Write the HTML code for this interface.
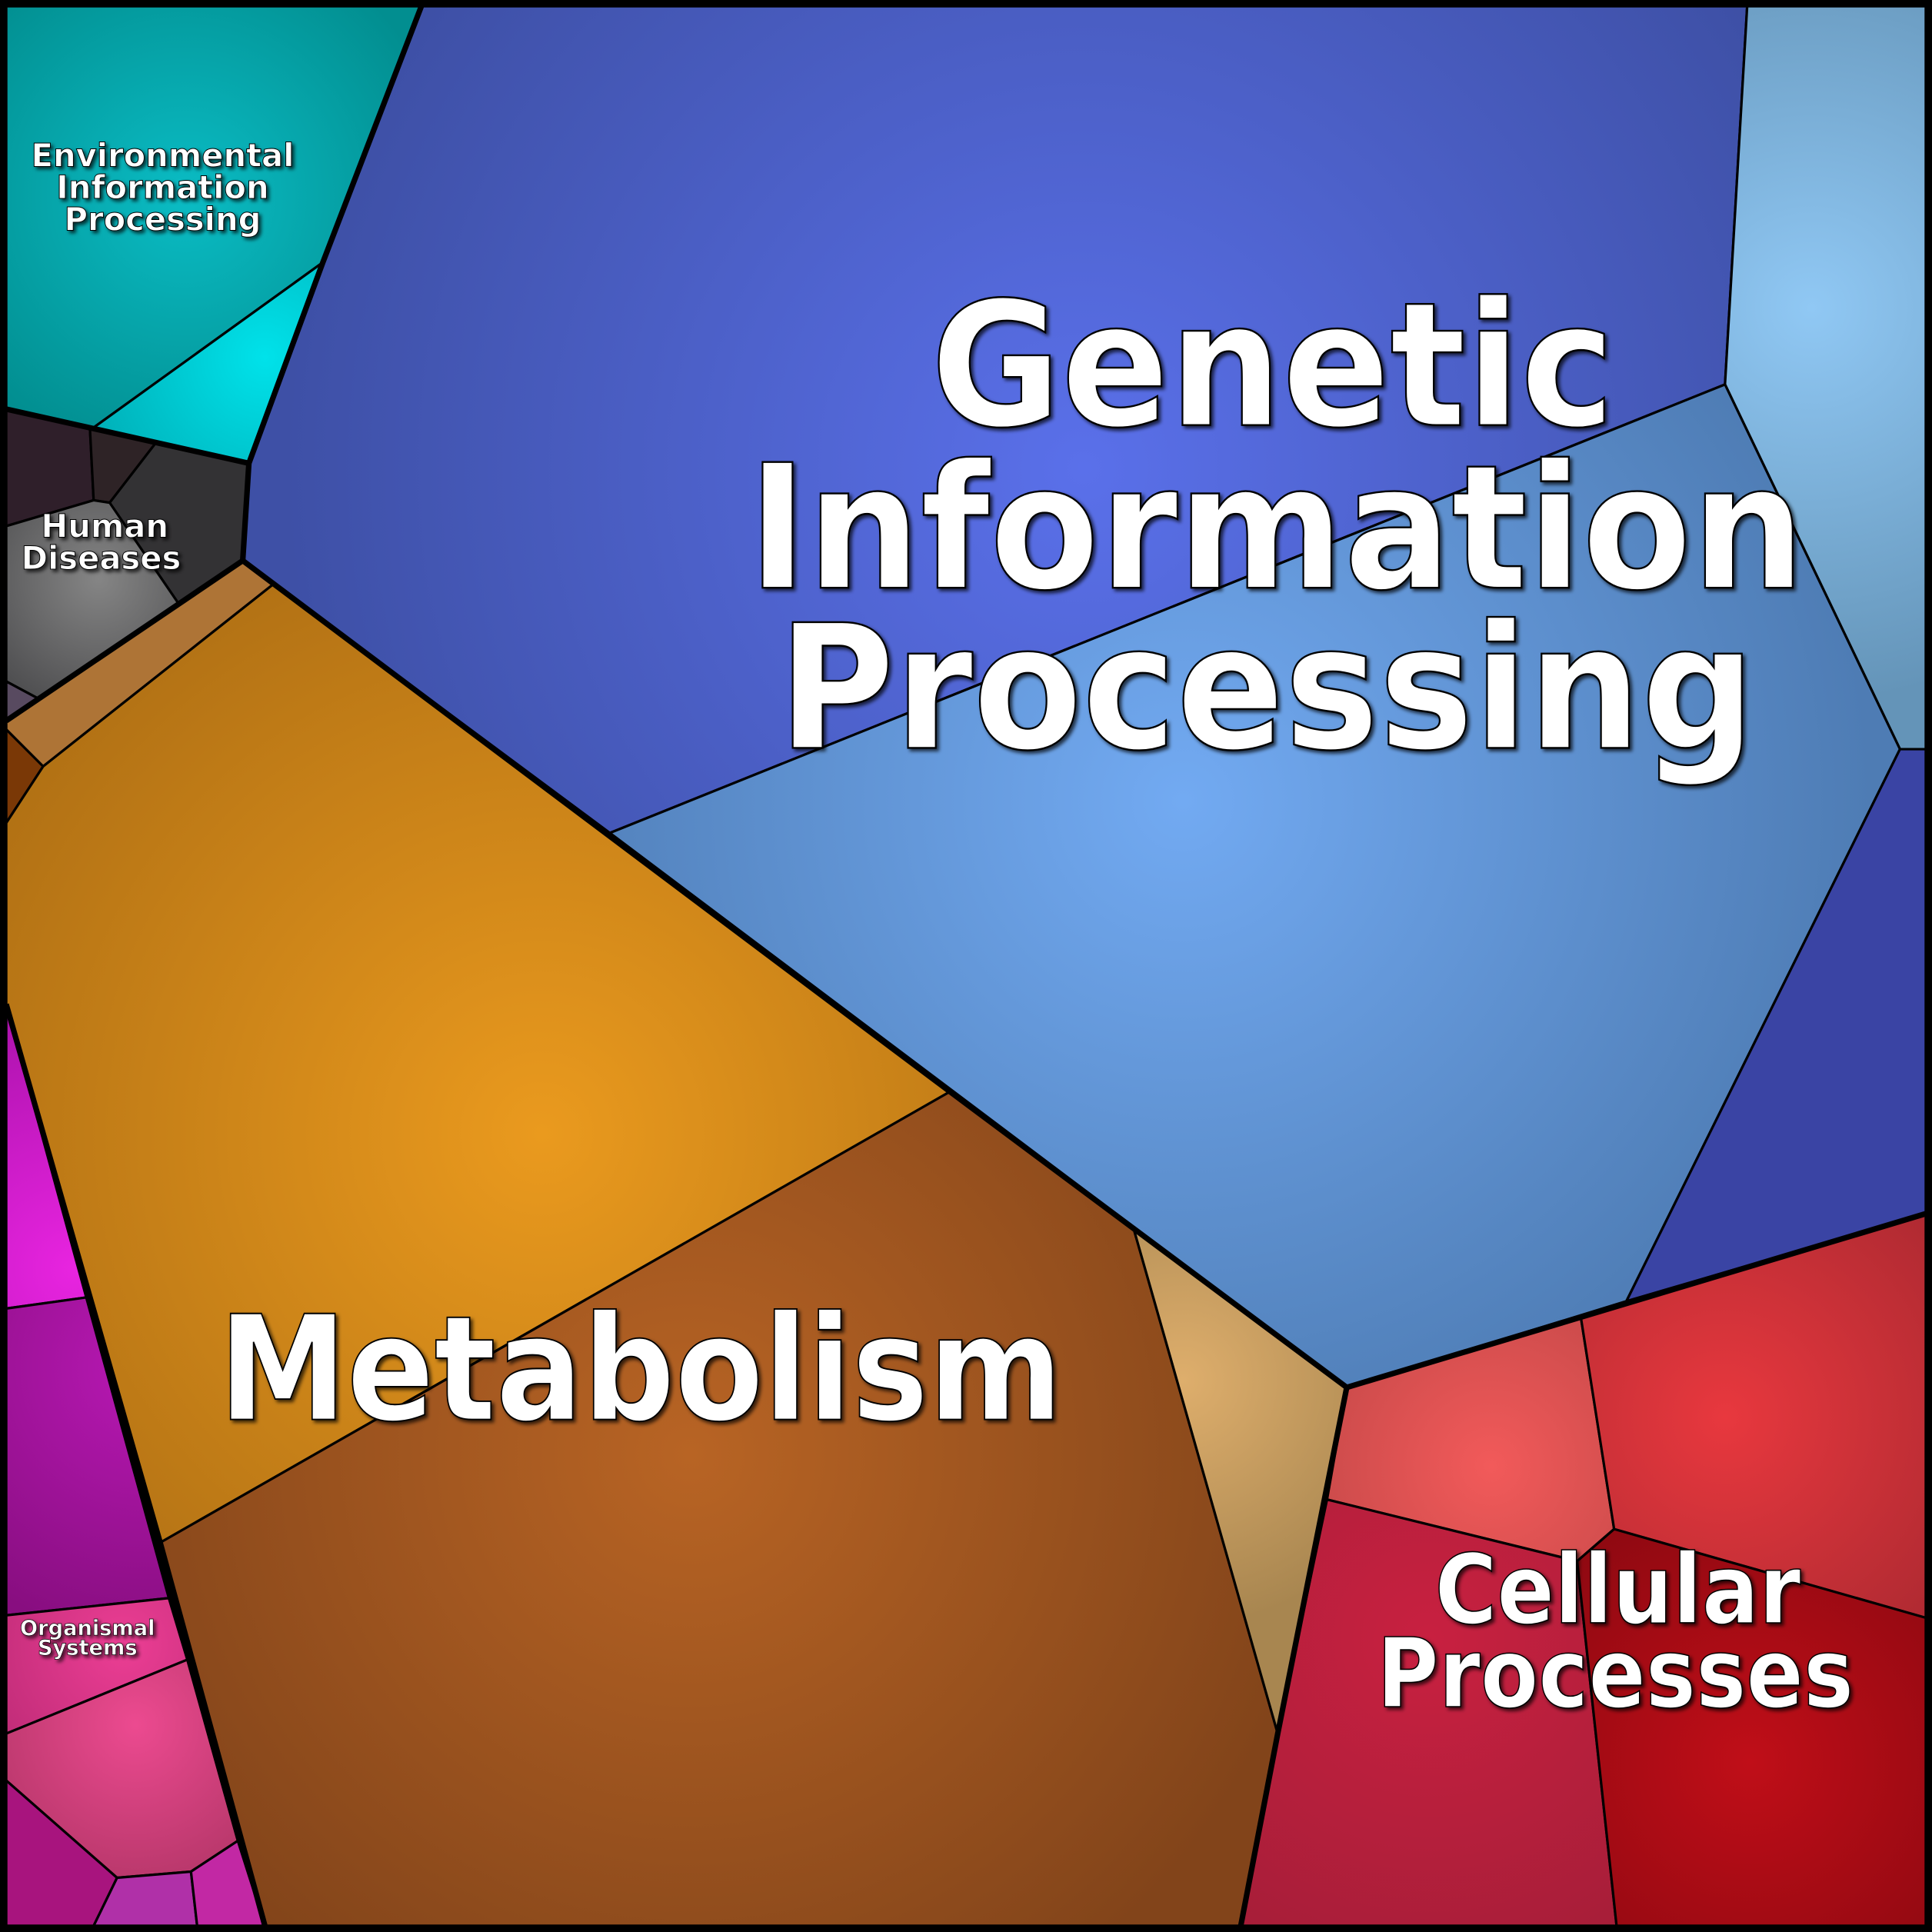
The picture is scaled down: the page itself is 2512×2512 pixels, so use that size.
<!DOCTYPE html>
<html><head><style>html,body{margin:0;padding:0;background:#000}svg{display:block}
text{font-family:"DejaVu Sans","Liberation Sans",sans-serif;font-weight:bold;fill:#fff;stroke:#000;text-anchor:middle;paint-order:normal}</style></head>
<body>
<svg width="2512" height="2512" viewBox="0 0 1568 1568" xmlns="http://www.w3.org/2000/svg">
<defs>
<filter id="sh" x="-10%" y="-10%" width="120%" height="130%"><feDropShadow dx="2" dy="2" stdDeviation="1.5" flood-color="#000" flood-opacity="0.7"/></filter>
<radialGradient id="g1" gradientUnits="userSpaceOnUse" cx="150" cy="160" r="220"><stop offset="0" stop-color="#0abcc4"/><stop offset="1" stop-color="#028e90"/></radialGradient>
<radialGradient id="g2" gradientUnits="userSpaceOnUse" cx="215" cy="290" r="150"><stop offset="0" stop-color="#00e2ea"/><stop offset="1" stop-color="#00b0b8"/></radialGradient>
<radialGradient id="g3" gradientUnits="userSpaceOnUse" cx="80" cy="470" r="120"><stop offset="0" stop-color="#858585"/><stop offset="1" stop-color="#4a4a4c"/></radialGradient>
<radialGradient id="g4" gradientUnits="userSpaceOnUse" cx="440" cy="920" r="520"><stop offset="0" stop-color="#ea9a1e"/><stop offset="1" stop-color="#b07014"/></radialGradient>
<radialGradient id="g5" gradientUnits="userSpaceOnUse" cx="560" cy="1180" r="520"><stop offset="0" stop-color="#b86424"/><stop offset="1" stop-color="#82441a"/></radialGradient>
<radialGradient id="g6" gradientUnits="userSpaceOnUse" cx="960" cy="1120" r="200"><stop offset="0" stop-color="#deae6c"/><stop offset="1" stop-color="#a88650"/></radialGradient>
<radialGradient id="g7" gradientUnits="userSpaceOnUse" cx="880" cy="380" r="650"><stop offset="0" stop-color="#5a70ea"/><stop offset="1" stop-color="#3e50a6"/></radialGradient>
<radialGradient id="g8" gradientUnits="userSpaceOnUse" cx="1470" cy="250" r="320"><stop offset="0" stop-color="#90c8f4"/><stop offset="1" stop-color="#6494b8"/></radialGradient>
<radialGradient id="g9" gradientUnits="userSpaceOnUse" cx="960" cy="650" r="560"><stop offset="0" stop-color="#72aaf2"/><stop offset="1" stop-color="#4e7cb4"/></radialGradient>
<radialGradient id="g10" gradientUnits="userSpaceOnUse" cx="1210" cy="1190" r="170"><stop offset="0" stop-color="#f25a5a"/><stop offset="1" stop-color="#c44848"/></radialGradient>
<radialGradient id="g11" gradientUnits="userSpaceOnUse" cx="1400" cy="1150" r="260"><stop offset="0" stop-color="#e8383e"/><stop offset="1" stop-color="#a82830"/></radialGradient>
<radialGradient id="g12" gradientUnits="userSpaceOnUse" cx="1160" cy="1330" r="300"><stop offset="0" stop-color="#c82040"/><stop offset="1" stop-color="#a41e38"/></radialGradient>
<radialGradient id="g13" gradientUnits="userSpaceOnUse" cx="1420" cy="1430" r="250"><stop offset="0" stop-color="#c00e18"/><stop offset="1" stop-color="#880810"/></radialGradient>
<radialGradient id="g14" gradientUnits="userSpaceOnUse" cx="60" cy="1030" r="200"><stop offset="0" stop-color="#e824e0"/><stop offset="1" stop-color="#b014b0"/></radialGradient>
<radialGradient id="g15" gradientUnits="userSpaceOnUse" cx="120" cy="1110" r="220"><stop offset="0" stop-color="#b818b4"/><stop offset="1" stop-color="#880e80"/></radialGradient>
<radialGradient id="g16" gradientUnits="userSpaceOnUse" cx="100" cy="1335" r="120"><stop offset="0" stop-color="#ec3e94"/><stop offset="1" stop-color="#c02c78"/></radialGradient>
<radialGradient id="g17" gradientUnits="userSpaceOnUse" cx="110" cy="1400" r="140"><stop offset="0" stop-color="#ec4a90"/><stop offset="1" stop-color="#b43668"/></radialGradient>
</defs>
<rect x="0" y="0" width="1568" height="1568" fill="#000"/>
<g stroke="#000" stroke-width="2" stroke-linejoin="round">
<!-- Environmental -->
<polygon points="5,5 342,5 262,213 76,347 5,332" fill="url(#g1)"/>
<polygon points="262,213 202,376 76,347" fill="url(#g2)"/>
<!-- Human diseases -->
<polygon points="5,332 73,348 76,406 5,427" fill="#2f1f2a"/>
<polygon points="73,348 126,360 89,408 76,406" fill="#2e2326"/>
<polygon points="126,360 202,376 197,455 145,490 89,408" fill="#333234"/>
<polygon points="5,427 76,406 89,408 145,490 33,568 5,553" fill="url(#g3)"/>
<polygon points="5,553 33,568 5,585" fill="#584a60"/>
<!-- Metabolism -->
<polygon points="5,585 197,455 222,474 35,622 5,592" fill="#ae7436"/>
<polygon points="5,592 35,622 5,668" fill="#7a3806"/>
<polygon points="35,622 222,474 771,886 130,1252 5,815 5,668" fill="url(#g4)"/>
<polygon points="771,886 920,997 1037,1407 1007,1563 215,1563 130,1252" fill="url(#g5)"/>
<polygon points="920,997 1093,1126 1037,1407" fill="url(#g6)"/>
<!-- Genetic -->
<polygon points="342,5 1418,5 1400,312 495,676 197,455 202,376 262,213" fill="url(#g7)"/>
<polygon points="1418,5 1563,5 1563,608 1542,608 1400,312" fill="url(#g8)"/>
<polygon points="1400,312 1542,608 1320,1056 1093,1126 495,676" fill="url(#g9)"/>
<polygon points="1542,608 1563,608 1563,985 1320,1056" fill="#3a44a4"/>
<!-- Cellular -->
<polygon points="1093,1126 1283,1069 1310,1241 1280,1267 1077,1217" fill="url(#g10)"/>
<polygon points="1283,1069 1563,985 1563,1313 1310,1241" fill="url(#g11)"/>
<polygon points="1077,1217 1280,1267 1312,1563 1007,1563 1037,1407" fill="url(#g12)"/>
<polygon points="1280,1267 1310,1241 1563,1313 1563,1563 1312,1563" fill="url(#g13)"/>
<!-- Organismal -->
<polygon points="5,815 70,1053 5,1062" fill="url(#g14)"/>
<polygon points="5,1062 70,1053 137,1297 5,1311" fill="url(#g15)"/>
<polygon points="5,1311 137,1297 152,1347 5,1407" fill="url(#g16)"/>
<polygon points="5,1407 152,1347 193,1494 155,1519 95,1524 5,1445" fill="url(#g17)"/>
<polygon points="5,1445 95,1524 76,1563 5,1563" fill="#a8147e"/>
<polygon points="95,1524 155,1519 160,1563 76,1563" fill="#b030a8"/>
<polygon points="155,1519 193,1494 215,1563 160,1563" fill="#c228a4"/>
</g>
<!-- top-level borders -->
<g fill="none" stroke="#000" stroke-width="4.5" stroke-linejoin="round">
<polyline points="342,5 262,213 202,376 197,455 771,886 1093,1126 1563,985"/>
<polyline points="5,332 202,376"/>
<polyline points="5,585 197,455"/>
<polyline points="5,815 130,1252 215,1563"/>
<polyline points="1093,1126 1037,1407 1007,1563"/>
<rect x="3" y="3" width="1562" height="1562" stroke-width="6"/>
</g>
<g filter="url(#sh)">
<text font-size="26" stroke-width="0.6" x="132" y="135">Environmental</text>
<text font-size="26" stroke-width="0.6" x="132" y="161">Information</text>
<text font-size="26" stroke-width="0.6" x="132" y="187">Processing</text>
<text font-size="26" stroke-width="0.6" x="85" y="436">Human</text>
<text font-size="26" stroke-width="0.6" x="82" y="462">Diseases</text>
<text font-size="17" stroke-width="0.4" x="71" y="1327">Organismal</text>
<text font-size="17" stroke-width="0.4" x="71" y="1343">Systems</text>
<text font-size="140" stroke-width="1.5" x="1033" y="345" textLength="555" lengthAdjust="spacingAndGlyphs">Genetic</text>
<text font-size="140" stroke-width="1.5" x="1036" y="477" textLength="858" lengthAdjust="spacingAndGlyphs">Information</text>
<text font-size="140" stroke-width="1.5" x="1028" y="607" textLength="793" lengthAdjust="spacingAndGlyphs">Processing</text>
<text font-size="118" stroke-width="1.2" x="520" y="1152" textLength="685" lengthAdjust="spacingAndGlyphs">Metabolism</text>
<text font-size="78" stroke-width="1" x="1313" y="1317" textLength="297" lengthAdjust="spacingAndGlyphs">Cellular</text>
<text font-size="78" stroke-width="1" x="1311" y="1385" textLength="387" lengthAdjust="spacingAndGlyphs">Processes</text>
</g>
</svg>
</body></html>
